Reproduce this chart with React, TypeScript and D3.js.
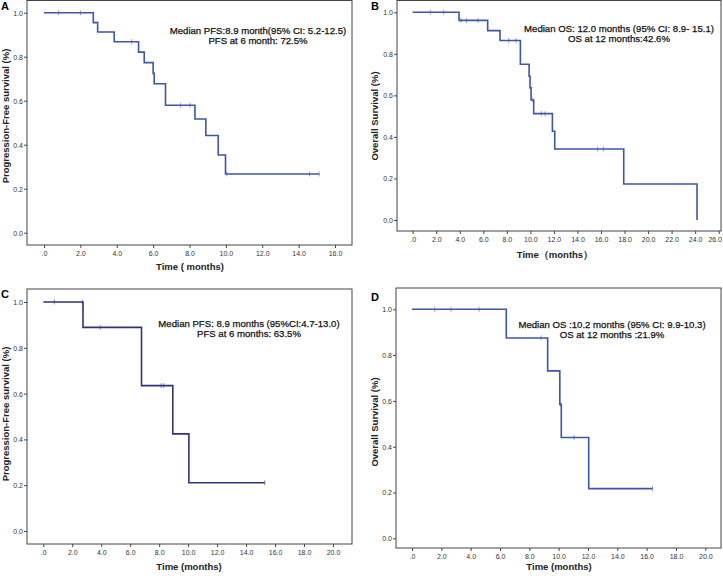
import React, { useEffect, useRef } from "react";
import * as d3 from "d3";

// Panel A - PFS, whole cohort
const aEventTimes = [2.71, 2.95, 3.86, 5.2, 5.51, 6.0, 6.06, 6.68, 8.3, 8.9, 9.58, 9.98];
const aSurvival = [0.955, 0.912, 0.868, 0.821, 0.773, 0.724, 0.677, 0.579, 0.517, 0.442, 0.353, 0.267];
const aCensored = [0.8, 2.0, 4.82, 7.5, 8.03, 10.05, 14.6, 15.13];
const aEnd = 15.13;

// Panel B - OS, whole cohort
const bEventTimes = [3.94, 6.37, 7.42, 9.15, 9.89, 9.97, 10.06, 10.28, 11.87, 12.07, 17.93, 24.16];
const bSurvival = [0.961, 0.912, 0.864, 0.75, 0.692, 0.636, 0.578, 0.512, 0.427, 0.342, 0.173, 0.0];
const bCensored = [1.5, 2.63, 4.1, 4.56, 5.55, 8.16, 8.78, 10.2, 10.93, 11.25, 15.72, 16.2];
const bEnd = 24.16;

// Panel C - PFS, subgroup
const cEventTimes = [2.74, 6.78, 8.94, 10.05];
const cSurvival = [0.889, 0.635, 0.424, 0.211];
const cCensored = [0.76, 2.69, 3.93, 8.14, 8.32, 15.29];
const cEnd = 15.29;

// Panel D - OS, subgroup
const dEventTimes = [6.43, 9.25, 10.08, 10.18, 12.05];
const dSurvival = [0.875, 0.731, 0.585, 0.44, 0.217];
const dCensored = [1.55, 2.66, 4.57, 8.8, 10.12, 11.05, 16.4];
const dEnd = 16.4;

const yTicks = [0, 0.2, 0.4, 0.6, 0.8, 1.0];
const xTicksA = d3.range(0, 17, 2);
const xTicksB = d3.range(0, 27, 2);
const xTicksCD = d3.range(0, 21, 2);

const panels = [
  {
    label: "A", times: aEventTimes, surv: aSurvival, censored: aCensored, end: aEnd,
    xMax: 16, xTicks: xTicksA, color: "#3d56a6",
    frame: [27, 0.5, 352, 245], xRange: [44, 335], yRange: [232.7, 12.7],
    labelPos: [1, 10],
    yTitle: "Progression-Free survival (%)", yTitlePos: [9, 116],
    xTitle: "Time ( months)", xTitlePos: [190, 270],
    notes: ["Median PFS:8.9 month(95% CI: 5.2-12.5)", "PFS at 6 month: 72.5%"], notePos: [258, 34],
  },
  {
    label: "B", times: bEventTimes, surv: bSurvival, censored: bCensored, end: bEnd,
    xMax: 26, xTicks: xTicksB, color: "#3d56a6",
    frame: [397, 0.5, 721, 231], xRange: [412.7, 718.7], yRange: [220, 12.3],
    labelPos: [371, 9.5],
    yTitle: "Overall Survival (%)", yTitlePos: [378, 116],
    xTitle: "Time（months）", xTitlePos: [555, 258],
    notes: ["Median OS: 12.0 months (95% CI: 8.9- 15.1)", "OS at 12 months:42.6%"], notePos: [619, 32],
  },
  {
    label: "C", times: cEventTimes, surv: cSurvival, censored: cCensored, end: cEnd,
    xMax: 20, xTicks: xTicksCD, color: "#30337a",
    frame: [27, 289, 352, 544], xRange: [43.3, 333], yRange: [531, 302],
    labelPos: [1, 298],
    yTitle: "Progression-Free survival (%)", yTitlePos: [9, 414],
    xTitle: "Time (months)", xTitlePos: [189, 570],
    notes: ["Median PFS: 8.9 months (95%CI:4.7-13.0)", "PFS at 6 months: 63.5%"], notePos: [249, 327],
  },
  {
    label: "D", times: dEventTimes, surv: dSurvival, censored: dCensored, end: dEnd,
    xMax: 20, xTicks: xTicksCD, color: "#3d56a6",
    frame: [396, 288, 721, 548], xRange: [412, 705.3], yRange: [538.3, 309.3],
    labelPos: [371, 301],
    yTitle: "Overall Survival (%)", yTitlePos: [378, 422],
    xTitle: "Time (months)", xTitlePos: [559, 570],
    notes: ["Median OS :10.2 months (95% CI: 9.9-10.3)", "OS at 12 months :21.9%"], notePos: [612, 328],
  },
];

const font = "'Liberation Sans', Arial, sans-serif";
const fmt = (v: number) => (v === 0 ? ".0" : d3.format(".1f")(v));

const App: React.FC = () => {
  const svgRef = useRef<SVGSVGElement | null>(null);

  useEffect(() => {
    const svg = d3.select(svgRef.current);
    svg.selectAll("*").remove();

    panels.forEach((p) => {
      const g = svg.append("g");
      const x = d3.scaleLinear().domain([0, p.xMax]).range(p.xRange);
      const y = d3.scaleLinear().domain([0, 1]).range(p.yRange);
      const [fx0, fy0, fx1, fy1] = p.frame;

      g.append("rect")
        .attr("x", fx0).attr("y", fy0)
        .attr("width", fx1 - fx0).attr("height", fy1 - fy0)
        .attr("fill", "white").attr("stroke", "#444").attr("stroke-width", 1);

      // axes
      const yAxis = g.append("g")
        .attr("transform", `translate(${fx0},0)`)
        .call(d3.axisLeft(y).tickValues(yTicks).tickSize(3).tickFormat((d) => d3.format(".1f")(d as number)));
      const xAxis = g.append("g")
        .attr("transform", `translate(0,${fy1})`)
        .call(d3.axisBottom(x).tickValues(p.xTicks).tickSize(3).tickPadding(3).tickFormat((d) => fmt(d as number)));
      [yAxis, xAxis].forEach((ax) => {
        ax.select(".domain").remove();
        ax.selectAll("line").attr("stroke", "#444");
        ax.selectAll("text").attr("font-family", font).attr("font-size", 7).attr("fill", "#333");
      });
      yAxis.selectAll("text").attr("dy", "0.35em").attr("x", -4);
      // nudge a label that would run past the page edge
      xAxis.selectAll(".tick").each(function (d) {
        if (x(d as number) > 715) d3.select(this).select("text").attr("x", -4);
      });

      // step curve
      const pts: [number, number][] = [[0, 1]];
      p.times.forEach((t, i) => pts.push([t, p.surv[i]]));
      pts.push([p.end, p.surv[p.surv.length - 1]]);
      const line = d3.line<[number, number]>()
        .x((d) => x(d[0]))
        .y((d) => y(d[1]))
        .curve(d3.curveStepAfter);
      g.append("path")
        .datum(pts)
        .attr("fill", "none")
        .attr("stroke", p.color)
        .attr("stroke-width", 1.6)
        .attr("d", line);

      // censor marks
      const survAt = (t: number) => {
        let s = 1;
        p.times.forEach((et, i) => { if (et <= t) s = p.surv[i]; });
        return s;
      };
      g.selectAll(".cens")
        .data(p.censored)
        .enter()
        .append("line")
        .attr("x1", (d) => x(d)).attr("x2", (d) => x(d))
        .attr("y1", (d) => y(survAt(d)) - 2.5).attr("y2", (d) => y(survAt(d)) + 2.5)
        .attr("stroke", p.color).attr("stroke-width", 0.8).attr("opacity", 0.7);

      // texts
      g.append("text")
        .attr("x", p.labelPos[0]).attr("y", p.labelPos[1])
        .attr("font-family", font).attr("font-weight", "bold").attr("font-size", 11)
        .text(p.label);
      g.append("text")
        .attr("transform", `translate(${p.yTitlePos[0]},${p.yTitlePos[1]}) rotate(-90)`)
        .attr("text-anchor", "middle")
        .attr("font-family", font).attr("font-weight", "bold").attr("font-size", 9.5)
        .attr("fill", "#222")
        .text(p.yTitle);
      g.append("text")
        .attr("x", p.xTitlePos[0]).attr("y", p.xTitlePos[1])
        .attr("text-anchor", "middle")
        .attr("font-family", font).attr("font-weight", "bold").attr("font-size", 9.5)
        .attr("fill", "#222")
        .text(p.xTitle);
      p.notes.forEach((n, i) => {
        g.append("text")
          .attr("x", p.notePos[0]).attr("y", p.notePos[1] + i * 10)
          .attr("text-anchor", "middle")
          .attr("font-family", font).attr("font-size", 9.6)
          .attr("fill", "#111").attr("stroke", "#111").attr("stroke-width", 0.25)
          .text(n);
      });
    });
  }, []);

  return (
    <div style={{ position: "absolute", left: 0, top: 0 }}>
      <svg ref={svgRef} width={723} height={579} style={{ display: "block" }}></svg>
    </div>
  );
};

export default App;
